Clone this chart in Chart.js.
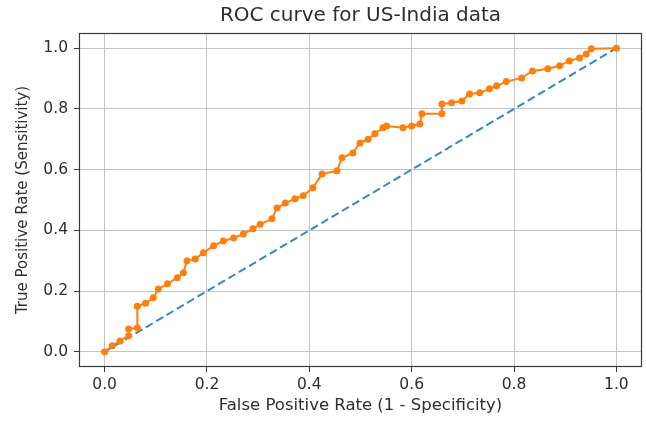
<!DOCTYPE html>
<html>
<head>
<meta charset="utf-8">
<script src="https://cdn.jsdelivr.net/npm/chart.js@4.4.1/dist/chart.umd.min.js"></script>
<style>
  html, body { margin: 0; padding: 0; background: #fff; }
  #wrap { width: 646px; height: 421px; position: relative; }
</style>
</head>
<body>
<div id="wrap"><canvas id="c" width="646" height="421"></canvas></div>
<script>
const chartTitle = 'ROC curve for US-India data';
const xAxisTitle = 'False Positive Rate (1 - Specificity)';
const yAxisTitle = 'True Positive Rate (Sensitivity)';
const tickValues = [0.0, 0.2, 0.4, 0.6, 0.8, 1.0];

const fpr = [0.000, 0.015, 0.030, 0.047, 0.047, 0.064, 0.064, 0.080, 0.095, 0.105,
             0.123, 0.142, 0.154, 0.161, 0.177, 0.193, 0.213, 0.232, 0.252, 0.271,
             0.290, 0.304, 0.327, 0.337, 0.353, 0.372, 0.388, 0.407, 0.425, 0.454,
             0.464, 0.485, 0.499, 0.515, 0.528, 0.544, 0.551, 0.583, 0.600, 0.616,
             0.620, 0.659, 0.659, 0.678, 0.698, 0.713, 0.733, 0.752, 0.766, 0.785,
             0.815, 0.836, 0.866, 0.889, 0.908, 0.928, 0.941, 0.951, 1.000];
const tpr = [0.000, 0.020, 0.036, 0.053, 0.075, 0.079, 0.150, 0.160, 0.178, 0.207,
             0.224, 0.244, 0.260, 0.300, 0.306, 0.326, 0.349, 0.365, 0.375, 0.388,
             0.405, 0.420, 0.438, 0.474, 0.490, 0.504, 0.514, 0.540, 0.586, 0.596,
             0.639, 0.655, 0.688, 0.700, 0.718, 0.738, 0.744, 0.738, 0.744, 0.750,
             0.784, 0.784, 0.816, 0.820, 0.826, 0.849, 0.853, 0.866, 0.876, 0.890,
             0.902, 0.925, 0.932, 0.942, 0.958, 0.968, 0.981, 0.998, 1.000];
const diagX = [0, 1];
const diagY = [0, 1];

const textColor = '#2e2e2e';
const gridColor = '#c4c4c4';
const frameColor = '#3a3a3a';

const titlePlugin = {
  id: 'topTitle',
  afterDraw(chart) {
    const {ctx, chartArea} = chart;
    ctx.save();
    ctx.fillStyle = textColor;
    ctx.font = '20px "DejaVu Sans"';
    ctx.textAlign = 'center';
    ctx.textBaseline = 'middle';
    ctx.fillText(chartTitle, (chartArea.left + chartArea.right) / 2, 16);
    ctx.restore();
  }
};
const framePlugin = {
  id: 'frame',
  afterDatasetsDraw(chart) {
    const {ctx, chartArea: a} = chart;
    ctx.save();
    ctx.strokeStyle = frameColor;
    ctx.lineWidth = 1.2;
    ctx.strokeRect(Math.round(a.left) + 0.5, Math.round(a.top) + 0.5,
                   Math.round(a.right - a.left) - 1, Math.round(a.bottom - a.top) - 1);
    ctx.restore();
  }
};

function setTicks(scale) {
  scale.ticks = tickValues.map(v => ({value: v}));
}

new Chart(document.getElementById('c'), {
  type: 'line',
  data: {
    datasets: [
      {
        data: diagX.map((x, i) => ({x: x, y: diagY[i]})),
        borderColor: '#3089c6',
        borderWidth: 2,
        borderDash: [8, 4],
        pointRadius: 0,
        fill: false,
        order: 2
      },
      {
        data: fpr.map((x, i) => ({x: x, y: tpr[i]})),
        borderColor: '#ff7f0e',
        backgroundColor: '#ff7f0e',
        borderWidth: 2,
        pointRadius: 3.5,
        pointBorderWidth: 0,
        pointHoverRadius: 3.5,
        fill: false,
        order: 1
      }
    ]
  },
  options: {
    responsive: false,
    animation: false,
    events: [],
    layout: { padding: { top: 33, right: 4, left: 0, bottom: 0 } },
    plugins: { legend: { display: false }, title: { display: false }, tooltip: { enabled: false } },
    scales: {
      x: {
        type: 'linear',
        min: -0.05, max: 1.05,
        afterBuildTicks: setTicks,
        afterFit(s) { s.height = 54; },
        border: { display: false },
        grid: { color: gridColor, lineWidth: 1, tickLength: 5, tickColor: frameColor, drawTicks: true },
        ticks: { color: textColor, font: { family: 'DejaVu Sans', size: 15.5 }, padding: 4,
                 maxRotation: 0, callback: v => Number(v).toFixed(1) },
        title: { display: true, text: xAxisTitle, color: textColor,
                 font: { family: 'DejaVu Sans', size: 16.5 }, padding: { top: 0, bottom: 5 } }
      },
      y: {
        type: 'linear',
        min: -0.05, max: 1.05,
        afterBuildTicks: setTicks,
        afterFit(s) { s.width = 79; },
        border: { display: false },
        grid: { color: gridColor, lineWidth: 1, tickLength: 5, tickColor: frameColor, drawTicks: true },
        ticks: { color: textColor, font: { family: 'DejaVu Sans', size: 15.5 }, padding: 6,
                 callback: v => Number(v).toFixed(1) },
        title: { display: true, text: yAxisTitle, color: textColor,
                 font: { family: 'DejaVu Sans', size: 15 }, padding: { top: 14, bottom: 0 } }
      }
    }
  },
  plugins: [titlePlugin, framePlugin]
});
</script>
</body>
</html>
